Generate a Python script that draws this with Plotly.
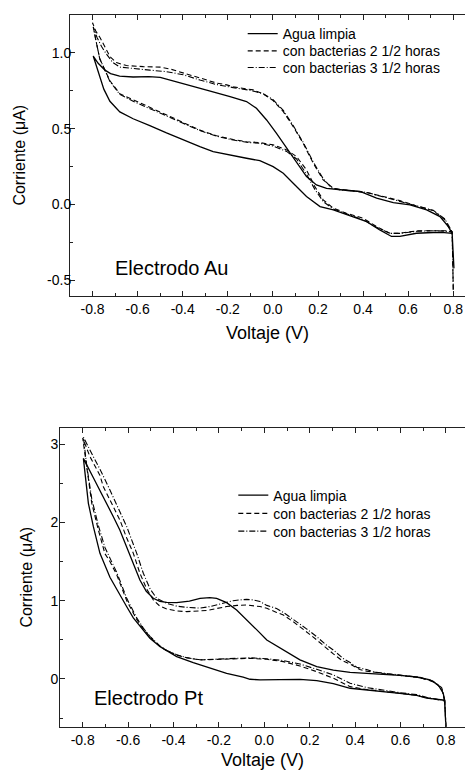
import plotly.graph_objects as go

# ---------------- data: Au electrode ----------------
au_agua_v = [0.803, 0.800, 0.795,
             0.760, 0.711, 0.637, 0.563, 0.526, 0.474, 0.416, 0.356, 0.268, 0.209, 0.149, 0.090, 0.046, 0.001,
             -0.058, -0.117, -0.190, -0.265, -0.324, -0.398, -0.472, -0.546, -0.620, -0.679, -0.723, -0.750,
             -0.768, -0.785, -0.797,
             -0.775, -0.745, -0.720, -0.680, -0.620, -0.550, -0.500, -0.398, -0.294, -0.190, -0.117, -0.073,
             -0.028, 0.016, 0.061, 0.105, 0.149, 0.193, 0.238, 0.312, 0.386, 0.460, 0.534, 0.608, 0.682, 0.741,
             0.778, 0.795]
au_agua_i = [-0.42, -0.30, -0.19,
             -0.185, -0.184, -0.189, -0.210, -0.210, -0.167, -0.112, -0.079, -0.035, -0.013, 0.053, 0.140, 0.206, 0.250,
             0.289, 0.305, 0.327, 0.349, 0.382, 0.425, 0.472, 0.520, 0.565, 0.610, 0.680, 0.760,
             0.840, 0.920, 0.978,
             0.930, 0.885, 0.862, 0.845, 0.840, 0.842, 0.838, 0.798, 0.754, 0.710, 0.678, 0.634,
             0.557, 0.469, 0.371, 0.272, 0.184, 0.129, 0.107, 0.096, 0.086, 0.042, 0.013, -0.002, -0.035, -0.079,
             -0.145, -0.190]

au_b25_v = [0.800, 0.798, 0.795,
            0.760, 0.711, 0.637, 0.563, 0.519, 0.460, 0.400, 0.326, 0.268, 0.223, 0.186, 0.149, 0.105, 0.061, 0.001,
            -0.058, -0.117, -0.176, -0.250, -0.324, -0.398, -0.472, -0.546, -0.620, -0.679, -0.723, -0.750, -0.768,
            -0.785, -0.800,
            -0.785, -0.767, -0.738, -0.723, -0.694, -0.650, -0.575, -0.500, -0.450, -0.398, -0.355, -0.300, -0.250,
            -0.205, -0.176, -0.087, -0.043, 0.001, 0.046, 0.090, 0.134, 0.179, 0.223, 0.268, 0.342, 0.416, 0.490,
            0.563, 0.637, 0.711, 0.763, 0.785, 0.795]
au_b25_i = [-0.56, -0.36, -0.178,
            -0.172, -0.171, -0.173, -0.189, -0.189, -0.145, -0.090, -0.057, -0.024, 0.031, 0.118, 0.228, 0.316, 0.360, 0.393,
            0.408, 0.414, 0.428, 0.453, 0.490, 0.540, 0.590, 0.635, 0.685, 0.730, 0.815, 0.900, 0.960,
            1.080, 1.197,
            1.140, 1.100, 1.018, 0.974, 0.935, 0.915, 0.908, 0.905, 0.890, 0.868, 0.845, 0.823, 0.800,
            0.788, 0.775, 0.755, 0.728, 0.685, 0.612, 0.513, 0.404, 0.272, 0.162, 0.107, 0.092, 0.079, 0.053,
            0.026, -0.009, -0.040, -0.100, -0.167, -0.178]

au_b35_v = [0.800, 0.798, 0.795,
            0.760, 0.711, 0.637, 0.563, 0.519, 0.460, 0.400, 0.326, 0.268, 0.223, 0.186, 0.149, 0.105, 0.061, 0.001,
            -0.058, -0.117, -0.176, -0.250, -0.324, -0.398, -0.472, -0.546, -0.620, -0.679, -0.723, -0.750, -0.768,
            -0.785, -0.797,
            -0.780, -0.760, -0.738, -0.710, -0.679, -0.620, -0.546, -0.472, -0.398, -0.324, -0.250, -0.176, -0.100,
            -0.043, 0.001, 0.046, 0.090, 0.134, 0.179, 0.223, 0.260, 0.300, 0.342, 0.416, 0.490, 0.563, 0.637,
            0.711, 0.763, 0.785, 0.795]
au_b35_i = [-0.56, -0.35, -0.180,
            -0.175, -0.172, -0.176, -0.190, -0.190, -0.150, -0.100, -0.060, -0.030, 0.020, 0.100, 0.200, 0.300, 0.350, 0.385,
            0.403, 0.410, 0.425, 0.450, 0.487, 0.535, 0.585, 0.630, 0.680, 0.725, 0.810, 0.900, 0.960,
            1.080, 1.170,
            1.100, 1.040, 0.990, 0.935, 0.905, 0.895, 0.885, 0.875, 0.855, 0.820, 0.790, 0.770, 0.752,
            0.730, 0.690, 0.620, 0.520, 0.410, 0.280, 0.170, 0.110, 0.095, 0.092, 0.080, 0.050, 0.025, -0.010,
            -0.038, -0.095, -0.160, -0.180]

# ---------------- data: Pt electrode ----------------
pt_agua_v = [0.800, 0.798, 0.794,
             0.715, 0.671, 0.597, 0.524, 0.451, 0.378, 0.304, 0.231, 0.157, 0.084, 0.011, -0.019, -0.063, -0.093,
             -0.166, -0.239, -0.313, -0.386, -0.459, -0.504, -0.533, -0.577, -0.606, -0.636, -0.680, -0.724,
             -0.753, -0.775, -0.790, -0.797,
             -0.753, -0.709, -0.665, -0.636, -0.606, -0.577, -0.548, -0.520, -0.489, -0.460, -0.430, -0.386,
             -0.330, -0.283, -0.240, -0.210, -0.166, -0.122, -0.078, -0.034, 0.011, 0.084, 0.157, 0.231, 0.304,
             0.378, 0.451, 0.524, 0.597, 0.671, 0.730, 0.766, 0.788, 0.794]
pt_agua_i = [-0.62, -0.45, -0.27,
             -0.245, -0.210, -0.185, -0.165, -0.148, -0.119, -0.060, -0.022, -0.006, -0.012, -0.014, -0.012, -0.004, 0.022,
             0.072, 0.136, 0.208, 0.285, 0.413, 0.520, 0.626, 0.780, 0.923, 1.080, 1.300, 1.605,
             1.945, 2.244, 2.600, 2.818,
             2.570, 2.328, 2.073, 1.900, 1.680, 1.460, 1.264, 1.120, 1.030, 0.990, 0.979, 0.975,
             0.995, 1.030, 1.040, 1.030, 0.975, 0.880, 0.760, 0.630, 0.498, 0.370, 0.243, 0.157, 0.112,
             0.085, 0.072, 0.062, 0.045, 0.025, -0.013, -0.077, -0.183, -0.270]

pt_b25_v = [0.800, 0.798, 0.795,
            0.715, 0.671, 0.597, 0.524, 0.451, 0.378, 0.304, 0.231, 0.157, 0.084, 0.011, -0.063, -0.136, -0.210,
            -0.283, -0.342, -0.386, -0.430, -0.459, -0.504, -0.533, -0.562, -0.606, -0.650, -0.680, -0.702,
            -0.731, -0.760, -0.782, -0.800,
            -0.768, -0.724, -0.709, -0.665, -0.636, -0.606, -0.577, -0.548, -0.518, -0.489, -0.460, -0.430,
            -0.386, -0.342, -0.283, -0.254, -0.210, -0.166, -0.120, -0.078, -0.019, 0.011, 0.054, 0.084, 0.128,
            0.157, 0.200, 0.231, 0.270, 0.304, 0.340, 0.378, 0.421, 0.451, 0.524, 0.597, 0.686, 0.744, 0.781,
            0.795]
pt_b25_i = [-0.62, -0.45, -0.28,
            -0.240, -0.210, -0.183, -0.162, -0.135, -0.098, 0.009, 0.093, 0.166, 0.221, 0.251, 0.264, 0.255, 0.245,
            0.243, 0.270, 0.306, 0.360, 0.413, 0.540, 0.640, 0.760, 1.000, 1.330, 1.500, 1.600,
            1.903, 2.244, 2.700, 3.080,
            2.840, 2.600, 2.456, 2.200, 2.030, 1.800, 1.605, 1.350, 1.150, 1.009, 0.930, 0.895,
            0.868, 0.860, 0.866, 0.875, 0.900, 0.925, 0.940, 0.945, 0.925, 0.903, 0.850, 0.817, 0.730,
            0.668, 0.570, 0.498, 0.400, 0.320, 0.240, 0.190, 0.120, 0.100, 0.070, 0.045, 0.017, -0.034, -0.119,
            -0.280]

pt_b35_v = [0.800, 0.798, 0.795,
            0.715, 0.671, 0.597, 0.524, 0.451, 0.378, 0.304, 0.231, 0.157, 0.084, 0.011, -0.063, -0.136, -0.210,
            -0.283, -0.342, -0.386, -0.430, -0.459, -0.504, -0.533, -0.562, -0.606, -0.650, -0.680, -0.702,
            -0.731, -0.760, -0.782, -0.797,
            -0.753, -0.724, -0.680, -0.636, -0.606, -0.562, -0.533, -0.503, -0.474, -0.430, -0.386, -0.342,
            -0.283, -0.240, -0.195, -0.137, -0.107, -0.078, -0.048, -0.019, 0.011, 0.054, 0.084, 0.128, 0.157,
            0.186, 0.231, 0.270, 0.304, 0.348, 0.378, 0.407, 0.451, 0.480, 0.524, 0.597, 0.686, 0.744, 0.781,
            0.795]
pt_b35_i = [-0.62, -0.45, -0.28,
            -0.235, -0.200, -0.175, -0.145, -0.110, -0.055, 0.051, 0.123, 0.191, 0.235, 0.258, 0.270, 0.262, 0.248,
            0.245, 0.272, 0.310, 0.365, 0.420, 0.545, 0.650, 0.780, 1.030, 1.360, 1.550, 1.680,
            1.960, 2.300, 2.720, 3.090,
            2.840, 2.680, 2.414, 2.130, 1.945, 1.605, 1.350, 1.150, 1.030, 0.966, 0.930, 0.915,
            0.905, 0.925, 0.955, 1.000, 1.010, 1.017, 1.009, 0.990, 0.940, 0.900, 0.850, 0.760, 0.711,
            0.640, 0.540, 0.440, 0.370, 0.260, 0.210, 0.150, 0.120, 0.090, 0.075, 0.050, 0.020, -0.030, -0.110,
            -0.280]

series_names = ["Agua limpia", "con bacterias 2 1/2 horas", "con bacterias 3 1/2 horas"]

x_tickvals = [-0.8, -0.6, -0.4, -0.2, 0.0, 0.2, 0.4, 0.6, 0.8]
x_ticktext = ["-0.8", "-0.6", "-0.4", "-0.2", "0.0", "0.2", "0.4", "0.6", "0.8"]
au_y_tickvals = [-0.5, 0.0, 0.5, 1.0]
au_y_ticktext = ["-0.5", "0.0", "0.5", "1.0"]
pt_y_tickvals = [0, 1, 2, 3]
pt_y_ticktext = ["0", "1", "2", "3"]

# ---------------- figure ----------------
W, H = 465, 776
FONT = "Arial, Liberation Sans, sans-serif"
styles = [dict(dash="solid", width=1.3), dict(dash="5px,3px", width=1.1), dict(dash="6px,2px,1px,2px", width=1.1)]

top_legends = ["legend7", "legend3", "legend4"]
bot_legends = ["legend2", "legend5", "legend6"]

fig = go.Figure()
au_data = [(au_agua_v, au_agua_i), (au_b25_v, au_b25_i), (au_b35_v, au_b35_i)]
pt_data = [(pt_agua_v, pt_agua_i), (pt_b25_v, pt_b25_i), (pt_b35_v, pt_b35_i)]
for (v, i), name, st, lg in zip(au_data, series_names, styles, top_legends):
    fig.add_trace(go.Scatter(x=v, y=i, mode="lines", name=name, line=dict(color="black", **st),
                             xaxis="x", yaxis="y", legend=lg, showlegend=True))
for (v, i), name, st, lg in zip(pt_data, series_names, styles, bot_legends):
    fig.add_trace(go.Scatter(x=v, y=i, mode="lines", name=name, line=dict(color="black", **st),
                             xaxis="x2", yaxis="y2", legend=lg, showlegend=True))

def xax(domain, rng, anchor, standoff):
    return dict(domain=domain, range=rng, anchor=anchor, tickmode="array", tickvals=x_tickvals,
                ticktext=x_ticktext, ticks="inside", ticklen=5, tickcolor="#222", showline=True,
                linecolor="#222", linewidth=1, mirror="ticks", showgrid=False, zeroline=False,
                minor=dict(dtick=0.1, tick0=0, ticks="inside", ticklen=3, tickcolor="#222"),
                tickfont=dict(family=FONT, size=14, color="black"),
                title=dict(text="Voltaje (V)", font=dict(family=FONT, size=18, color="black"), standoff=standoff))

def yax(domain, rng, anchor, tv, tt, minor_dtick, standoff, lblshift):
    return dict(domain=domain, range=rng, anchor=anchor, tickmode="array", tickvals=tv, ticktext=tt,
                ticks="inside", ticklen=5, tickcolor="#222", showline=True, linecolor="#222", linewidth=1,
                mirror=False, showgrid=False, zeroline=False, ticklabelstandoff=lblshift,
                minor=dict(dtick=minor_dtick, tick0=0, ticks="inside", ticklen=3, tickcolor="#222"),
                tickfont=dict(family=FONT, size=14, color="black"),
                title=dict(text="Corriente (\u03bcA)", font=dict(family=FONT, size=16, color="black"), standoff=standoff))

def leg(xpx, ypx):
    return dict(x=xpx / W, y=1 - ypx / H, xanchor="left", yanchor="top", bgcolor="rgba(0,0,0,0)",
                font=dict(family=FONT, size=14, color="black"), visible=True)

fig.update_layout(
    width=W, height=H, margin=dict(l=0, r=0, t=0, b=0), showlegend=True,
    paper_bgcolor="white", plot_bgcolor="white",
    xaxis=xax([70 / W, 1], [-0.9, 0.852], "y", 10),
    yaxis=yax([1 - 295.7 / H, 1 - 14.7 / H], [-0.6, 1.25], "x", au_y_tickvals, au_y_ticktext, 0.25, 17, -5),
    xaxis2=xax([60 / W, 1], [-0.9, 0.884], "y2", 6),
    yaxis2=yax([1 - 726.7 / H, 1 - 427.7 / H], [-0.61, 3.21], "x2", pt_y_tickvals, pt_y_ticktext, 0.5, 13, -2),
    legend7=leg(242.7, 18.0),
    legend3=leg(242.7, 35.3),
    legend4=leg(242.7, 51.9),
    legend2=leg(233.3, 479.5),
    legend5=leg(233.3, 497.8),
    legend6=leg(233.3, 515.5),
    annotations=[
        dict(text="Electrodo Au", x=113 / W, y=1 - 268.3 / H, xref="paper", yref="paper",
             xanchor="left", yanchor="middle", showarrow=False, font=dict(family=FONT, size=20, color="black")),
        dict(text="Electrodo Pt", x=91.7 / W, y=1 - 698.3 / H, xref="paper", yref="paper",
             xanchor="left", yanchor="middle", showarrow=False, font=dict(family=FONT, size=20, color="black")),
    ],
)

fig.write_html("out.html", config={"displayModeBar": False},
               post_script="document.body.style.margin='0';document.body.style.overflow='hidden';")
